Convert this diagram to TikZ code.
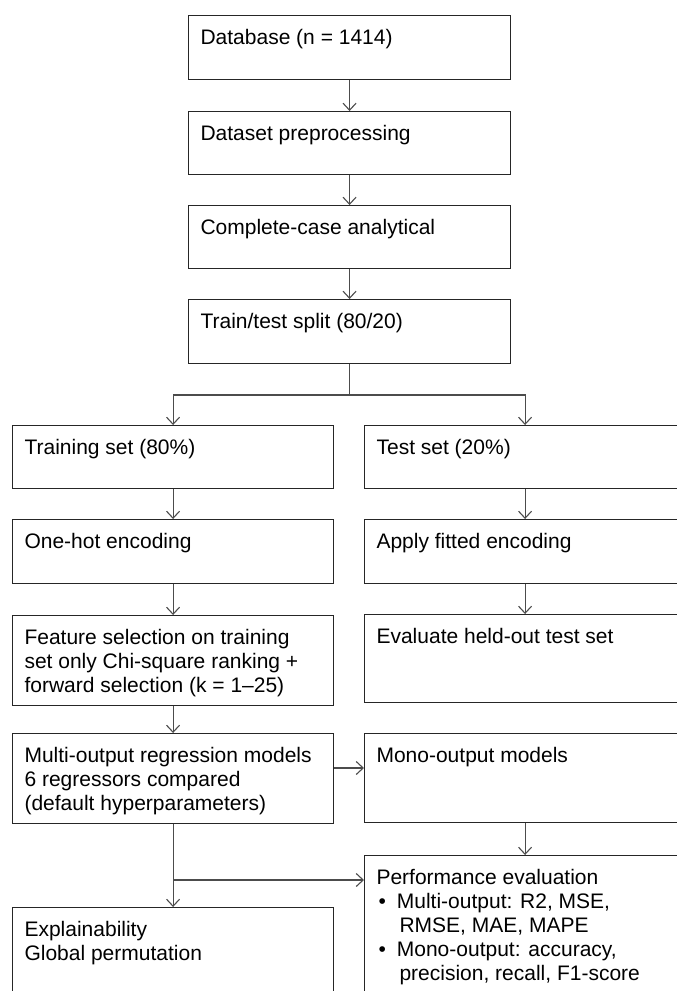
\documentclass[tikz,border=0pt]{standalone}
\usepackage{fontspec}
\setmainfont{Liberation Sans}
\usetikzlibrary{arrows.meta}
\newcommand\boxtxt[3]{\parbox[c][#2pt][t]{#1pt}{\rule{0pt}{29pt}#3}}
\tikzset{
  fbox/.style={draw=black!85, line width=1.1pt, rectangle, inner sep=0pt, anchor=north west,
    font=\fontsize{21}{24}\selectfont, align=left},
  conn/.style={draw=black!70, line width=1.1pt},
  arr/.style={conn, -{Straight Barb[length=7pt,width=13pt,line width=1.1pt]}},
}
\newcommand\mkbox[6]{% name, x1, y1, x2, y2, text
  \pgfmathsetmacro\bw{#4-#2}\pgfmathsetmacro\bh{#5-#3}%
  \pgfmathsetmacro\tw{#4-#2-24}%
  \node[fbox, minimum width=\bw pt, minimum height=\bh pt] (#1) at (#2,#3)
    {\hspace*{12pt}\boxtxt{\tw}{\bh}{#6}\hspace*{12pt}};}
\begin{document}
\begin{tikzpicture}[x=1pt,y=-1pt]
\useasboundingbox (0,0) rectangle (677,991);
\fill[white] (0,0) rectangle (677,991);
\clip (0,0) rectangle (677,991);
\mkbox{db}{188}{15}{510}{79}{Database (n = 1414)}
\mkbox{prep}{188}{111}{510}{174}{Dataset preprocessing}
\mkbox{cc}{188}{205}{510}{268}{Complete-case analytical}
\mkbox{split}{188}{299}{510}{363}{Train/test split (80/20)}
\mkbox{train}{12}{425}{333}{488}{Training set (80\%)}
\mkbox{test}{364}{425}{685}{488}{Test set (20\%)}
\mkbox{onehot}{12}{519}{333}{583}{One-hot encoding}
\mkbox{apply}{364}{519}{685}{583}{Apply fitted encoding}
\mkbox{feat}{12}{615}{333}{705}{Feature selection on training\\set only Chi-square ranking +\\forward selection (k = 1--25)}
\mkbox{evalt}{364}{614}{685}{702}{Evaluate held-out test set}
\mkbox{multi}{12}{733}{333}{823}{Multi-output regression models\\6 regressors compared\\(default hyperparameters)}
\mkbox{mono}{364}{733}{685}{822}{Mono-output models}
\mkbox{perf}{364}{855}{685}{1005}{Performance evaluation\\
\hspace*{2pt}\textbullet\hspace{11pt}Multi-output: R2, MSE,\\
\hspace*{23pt}RMSE, MAE, MAPE\\
\hspace*{2pt}\textbullet\hspace{11pt}Mono-output: accuracy,\\
\hspace*{23pt}precision, recall, F1-score}
\mkbox{expl}{12}{907}{333}{1005}{Explainability\\Global permutation}
% connectors
\draw[arr] (db.south) -- (prep.north);
\draw[arr] (prep.south) -- (cc.north);
\draw[arr] (cc.south) -- (split.north);
\coordinate (sj) at (split.south |- 0,395);
\draw[conn] (split.south) -- (sj);
\draw[arr] (sj) -| (train.north);
\draw[arr] (sj) -| (test.north);
\draw[arr] (train.south) -- (onehot.north);
\draw[arr] (onehot.south) -- (feat.north);
\draw[arr] (feat.south) -- (multi.north);
\draw[arr] (test.south) -- (apply.north);
\draw[arr] (apply.south) -- (evalt.north);
\draw[arr] (multi.east |- 0,768) -- (mono.west |- 0,768);
\draw[arr] (mono.south) -- (perf.north);
\draw[arr] (multi.south) -- (expl.north);
\coordinate (bj) at (multi.south |- 0,880);
\draw[arr] (bj) -- (perf.west |- bj);
\end{tikzpicture}
\end{document}
